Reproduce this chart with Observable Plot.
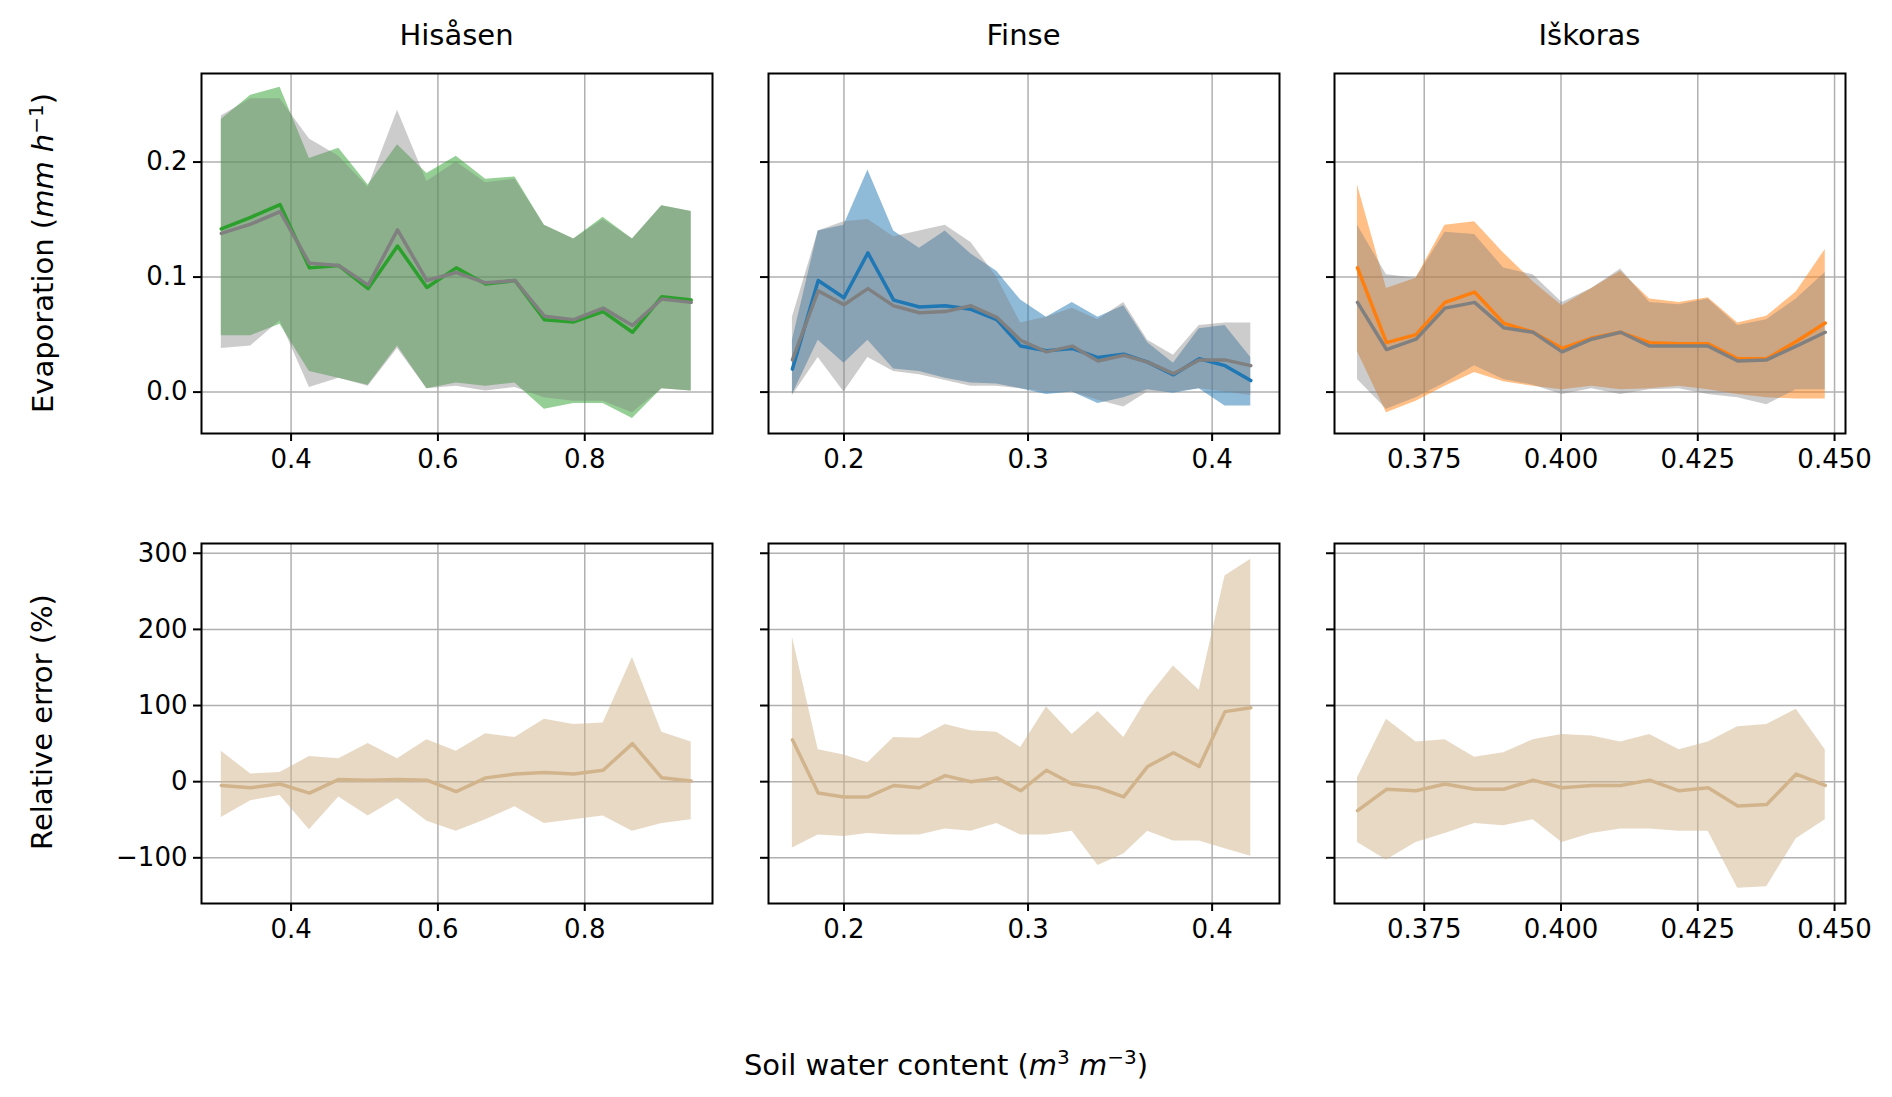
<!DOCTYPE html>
<html><head><meta charset="utf-8">
<script src="https://cdn.jsdelivr.net/npm/d3@7"></script>
<script src="https://cdn.jsdelivr.net/npm/@observablehq/plot@0.6"></script>
<style>
body{margin:0;background:#fff;font-family:"DejaVu Sans",sans-serif;}
#wrap{position:relative;width:1892px;height:1097px;}
.abs{position:absolute;}
.title{font-size:29px;transform:translateX(-50%);white-space:nowrap;}
.ylab{font-size:29px;transform:translate(-50%,-50%) rotate(-90deg);white-space:nowrap;}
</style></head><body><div id="wrap"></div>
<script>
const sites = ["Hisåsen","Finse","Iškoras"];
const colors = ["#2ca02c","#1f77b4","#ff7f0e"];
const tanColor = "#d2b48c";

const hisX = [0.305,0.345,0.385,0.425,0.465,0.505,0.545,0.585,0.625,0.665,0.705,0.745,0.785,0.825,0.865,0.905,0.945];
const hisObs = [0.142,0.152,0.163,0.108,0.110,0.090,0.127,0.091,0.108,0.094,0.097,0.063,0.061,0.070,0.052,0.083,0.080];
const hisSim = [0.138,0.146,0.157,0.112,0.110,0.093,0.141,0.097,0.104,0.095,0.097,0.066,0.063,0.073,0.058,0.081,0.078];
const hisObsHi = [0.237,0.258,0.265,0.203,0.212,0.180,0.215,0.190,0.205,0.185,0.187,0.145,0.133,0.152,0.133,0.162,0.157];
const hisObsLo = [0.049,0.049,0.059,0.018,0.012,0.006,0.040,0.003,0.008,0.005,0.008,-0.015,-0.010,-0.010,-0.023,0.003,0.001];
const hisSimHi = [0.240,0.255,0.255,0.220,0.205,0.178,0.245,0.183,0.200,0.182,0.185,0.145,0.133,0.150,0.133,0.162,0.157];
const hisSimLo = [0.038,0.040,0.062,0.004,0.012,0.005,0.038,0.003,0.005,0.001,0.004,-0.005,-0.008,-0.008,-0.018,0.003,0.001];
const hisErr = [-5,-8,-3,-15,3,2,3,2,-13,5,10,12,10,15,50,5,1];
const hisErrHi = [40,10,12,33,30,50,30,55,40,63,58,82,75,77,163,65,52];
const hisErrLo = [-47,-25,-18,-63,-20,-45,-22,-52,-65,-50,-33,-55,-50,-45,-65,-55,-50];

const finX = [0.172,0.186,0.200,0.213,0.227,0.241,0.255,0.269,0.283,0.296,0.310,0.324,0.338,0.352,0.365,0.379,0.393,0.407,0.421];
const finObs = [0.020,0.097,0.082,0.121,0.080,0.074,0.075,0.072,0.063,0.040,0.036,0.038,0.030,0.033,0.026,0.015,0.029,0.023,0.010];
const finSim = [0.028,0.088,0.076,0.090,0.075,0.069,0.070,0.075,0.065,0.045,0.035,0.040,0.027,0.032,0.026,0.016,0.028,0.028,0.023];
const finObsHi = [0.045,0.140,0.145,0.193,0.140,0.125,0.140,0.120,0.105,0.080,0.065,0.078,0.065,0.075,0.043,0.025,0.055,0.058,0.030];
const finObsLo = [-0.002,0.045,0.025,0.045,0.020,0.018,0.012,0.008,0.007,0.003,-0.002,0.0,-0.010,-0.005,0.002,-0.001,0.003,-0.012,-0.012];
const finSimHi = [0.065,0.140,0.148,0.150,0.135,0.140,0.145,0.130,0.100,0.060,0.065,0.073,0.063,0.078,0.045,0.032,0.058,0.060,0.060];
const finSimLo = [-0.003,0.030,0.0,0.030,0.018,0.015,0.010,0.005,0.005,0.003,0.0,0.0,-0.007,-0.013,0.0,0.0,0.003,0.0,-0.003];
const finErr = [55,-15,-20,-20,-5,-8,8,0,5,-12,15,-3,-8,-20,20,38,20,92,97];
const finErrHi = [190,42,35,25,58,57,75,67,65,45,98,62,92,58,110,152,120,270,292];
const finErrLo = [-87,-70,-72,-68,-70,-70,-62,-65,-55,-70,-70,-65,-110,-95,-65,-78,-78,-88,-98];

const iskX = [0.3628,0.3681,0.3735,0.3788,0.3842,0.3895,0.3949,0.4002,0.4056,0.4109,0.4162,0.4216,0.4269,0.4323,0.4376,0.4430,0.4483];
const iskObs = [0.108,0.043,0.050,0.078,0.087,0.060,0.052,0.038,0.047,0.052,0.043,0.042,0.042,0.029,0.029,0.044,0.060];
const iskSim = [0.078,0.037,0.046,0.073,0.078,0.056,0.052,0.035,0.046,0.052,0.040,0.040,0.040,0.027,0.028,0.040,0.052];
const iskObsHi = [0.180,0.090,0.099,0.145,0.148,0.121,0.096,0.075,0.090,0.105,0.081,0.078,0.082,0.060,0.066,0.087,0.124];
const iskObsLo = [0.035,-0.018,-0.008,0.005,0.017,0.009,0.005,0.002,0.005,0.002,0.003,0.005,0.002,-0.002,-0.005,-0.006,-0.006];
const iskSimHi = [0.145,0.102,0.099,0.139,0.137,0.108,0.102,0.078,0.090,0.107,0.078,0.076,0.081,0.058,0.063,0.081,0.104];
const iskSimLo = [0.011,-0.015,-0.005,0.008,0.023,0.011,0.006,-0.002,0.003,-0.002,0.002,0.003,-0.002,-0.005,-0.011,0.002,0.002];
const iskErr = [-38,-10,-12,-3,-10,-10,2,-8,-5,-5,2,-12,-8,-32,-30,10,-5];
const iskErrHi = [5,82,52,55,32,38,55,62,60,52,62,42,52,72,75,95,42];
const iskErrLo = [-80,-103,-80,-68,-55,-58,-50,-80,-68,-62,-62,-65,-65,-140,-138,-75,-50];

const xTicks = [[0.4,0.6,0.8],[0.2,0.3,0.4],[0.375,0.400,0.425,0.450]];
const xFormats = [".1f",".1f",".3f"];
const xDomains = [[0.278,0.974],[0.159,0.4366],[0.3586,0.4520]];
const evapTicks = [0,0.1,0.2];
const errTicks = [-100,0,100,200,300];

const siteData = [
  [hisX,hisObs,hisSim,hisObsHi,hisObsLo,hisSimHi,hisSimLo,hisErr,hisErrHi,hisErrLo],
  [finX,finObs,finSim,finObsHi,finObsLo,finSimHi,finSimLo,finErr,finErrHi,finErrLo],
  [iskX,iskObs,iskSim,iskObsHi,iskObsLo,iskSimHi,iskSimLo,iskErr,iskErrHi,iskErrLo]
];

const wrap = document.getElementById("wrap");
const colLeft = [201,768,1334], pw = 511;
const rowTop = [73,543], ph = 360;
const mL=90, mR=30, mT=6, mB=70;

function panel(ci, ri){
  const [X,obs,sim,oHi,oLo,sHi,sLo,err,eHi,eLo] = siteData[ci];
  const rows = X.map((x,i)=>({x,obs:obs[i],sim:sim[i],oHi:oHi[i],oLo:oLo[i],sHi:sHi[i],sLo:sLo[i],err:err[i],eHi:eHi[i],eLo:eLo[i]}));
  const yDomain = ri===0 ? [-0.036,0.277] : [-160,312.8];
  const yTicks = ri===0 ? evapTicks : errTicks;
  const grid = "#b0b0b0";
  let marks = [
    Plot.gridX(xTicks[ci],{stroke:grid,strokeOpacity:1,strokeWidth:1.5}),
    Plot.gridY(yTicks,{stroke:grid,strokeOpacity:1,strokeWidth:1.5}),
  ];
  if(ri===0){
    marks.push(
      Plot.areaY(rows,{x:"x",y1:"oLo",y2:"oHi",fill:colors[ci],fillOpacity:0.5,clip:true}),
      Plot.areaY(rows,{x:"x",y1:"sLo",y2:"sHi",fill:"gray",fillOpacity:0.4,clip:true}),
      Plot.line(rows,{x:"x",y:"obs",stroke:colors[ci],strokeWidth:3.5}),
      Plot.line(rows,{x:"x",y:"sim",stroke:"gray",strokeWidth:3.5})
    );
  } else {
    marks.push(
      Plot.areaY(rows,{x:"x",y1:"eLo",y2:"eHi",fill:tanColor,fillOpacity:0.5,clip:true}),
      Plot.line(rows,{x:"x",y:"err",stroke:tanColor,strokeWidth:3.5})
    );
  }
  marks.push(
    Plot.axisX(xTicks[ci],{tickFormat:d3.format(xFormats[ci]),tickSize:8,tickPadding:8,fontSize:26,strokeWidth:2,label:null}),
    Plot.axisY(yTicks,{tickFormat: ci===0 ? (ri===0? d3.format(".1f") : d3.format("d")) : ()=>"",tickSize:8,tickPadding:6,fontSize:26,strokeWidth:2,label:null}),
    Plot.frame({stroke:"black",strokeWidth:2})
  );
  const svg = Plot.plot({
    width:pw+mL+mR, height:ph+mT+mB,
    marginLeft:mL, marginRight:mR, marginTop:mT, marginBottom:mB,
    x:{domain:xDomains[ci]}, y:{domain:yDomain},
    style:{fontFamily:"DejaVu Sans",color:"black",background:"transparent",overflow:"visible"},
    marks
  });
  svg.classList.add("abs");
  svg.style.left = (colLeft[ci]-mL)+"px";
  svg.style.top = (rowTop[ri]-mT)+"px";
  wrap.appendChild(svg);
}
for(let r=0;r<2;r++) for(let c=0;c<3;c++) panel(c,r);

sites.forEach((s,i)=>{
  const d=document.createElement("div");
  d.className="abs title"; d.textContent=s;
  d.style.left=(colLeft[i]+pw/2)+"px"; d.style.top="18px";
  wrap.appendChild(d);
});
const yl1=document.createElement("div");
yl1.className="abs ylab"; yl1.innerHTML='Evaporation (<i>mm h</i><sup style="font-size:20px">−1</sup>)';
yl1.style.left="42px"; yl1.style.top="253px"; wrap.appendChild(yl1);
const yl2=document.createElement("div");
yl2.className="abs ylab"; yl2.textContent="Relative error (%)";
yl2.style.left="42px"; yl2.style.top="722px"; wrap.appendChild(yl2);
const xl=document.createElement("div");
xl.className="abs title"; xl.innerHTML='Soil water content (<i>m</i><sup style="font-size:20px">3</sup> <i>m</i><sup style="font-size:20px">−3</sup>)';
xl.style.left="946px"; xl.style.top="1045px"; wrap.appendChild(xl);
</script></body></html>
